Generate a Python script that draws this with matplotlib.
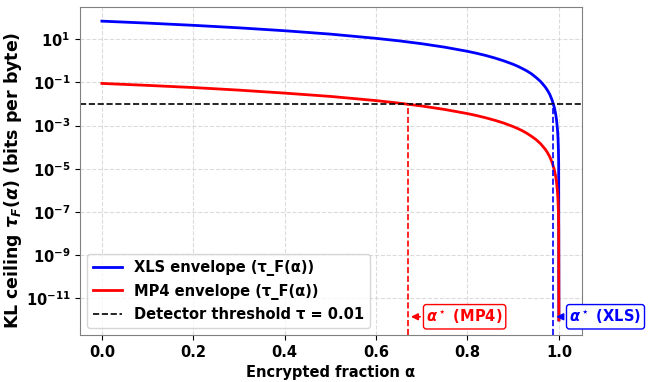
import numpy as np
import matplotlib
matplotlib.use("Agg")
import matplotlib.pyplot as plt

# encrypted fraction samples (denser near 1 where the curves drop)
alpha = [0.0, 0.1, 0.2, 0.3, 0.4, 0.5, 0.6, 0.65, 0.7, 0.75, 0.8, 0.82,
         0.84, 0.86, 0.88, 0.9, 0.91, 0.92, 0.93, 0.94, 0.95, 0.96, 0.97,
         0.975, 0.98, 0.985, 0.99, 0.993, 0.995, 0.997, 0.998, 0.999, 0.9995, 1.0]

# KL ceiling (bits per byte)
xls_tau = [69, 55.9, 44.2, 33.8, 24.8, 17.3, 11.0, 8.45, 6.2, 4.3, 2.76, 2.24,
           1.77, 1.35, 0.99, 0.69, 0.56, 0.44, 0.34, 0.25, 0.17, 0.11, 0.062,
           0.043, 0.028, 0.0155, 0.0069, 0.0034, 0.0017, 6.2e-4, 2.8e-4, 6.9e-5,
           1.7e-5, 1e-12]
mp4_tau = [0.09, 0.073, 0.058, 0.044, 0.032, 0.0225, 0.0144, 0.011, 0.0081,
           0.0056, 0.0036, 0.00292, 0.0023, 0.00176, 0.0013, 9e-4, 7.3e-4,
           5.8e-4, 4.4e-4, 3.2e-4, 2.25e-4, 1.44e-4, 8.1e-5, 5.6e-5, 3.6e-5,
           2.0e-5, 9e-6, 4.4e-6, 2.25e-6, 8.1e-7, 3.6e-7, 9e-8, 2.25e-8, 1e-12]

threshold = 0.01
alpha_star_mp4 = 0.67
alpha_star_xls = 0.988

plt.rcParams['font.weight'] = 'bold'
plt.rcParams['axes.labelweight'] = 'bold'

fig, ax = plt.subplots(figsize=(6.5, 3.82), dpi=100)
fig.subplots_adjust(left=0.123, right=0.895, top=0.982, bottom=0.123)

ax.plot(alpha, xls_tau, color='blue', lw=2, label='XLS envelope (τ_F(α))')
ax.plot(alpha, mp4_tau, color='red', lw=2, label='MP4 envelope (τ_F(α))')
ax.axhline(threshold, color='black', ls='--', lw=1.2,
           label='Detector threshold τ = 0.01')
ax.set_yscale('log')
ax.set_xlim(-0.048, 1.05)
ax.set_ylim(2e-13, 316)

ymin = ax.get_ylim()[0]
ax.vlines(alpha_star_mp4, ymin, threshold, colors='red', linestyles='--', lw=1.2)
ax.vlines(alpha_star_xls, ymin, threshold, colors='blue', linestyles='--', lw=1.2)

ann = dict(fontsize=10.5, fontweight='bold', va='center')
ax.annotate(r'$\boldsymbol{\alpha^\star}$ (MP4)', xy=(alpha_star_mp4, 1.4e-12),
            xytext=(alpha_star_mp4 + 0.04, 1.4e-12), color='red',
            bbox=dict(boxstyle='round,pad=0.2', fc='white', ec='red'),
            arrowprops=dict(arrowstyle='-|>', color='red', lw=1.2,
                            mutation_scale=10), **ann)
ax.annotate(r'$\boldsymbol{\alpha^\star}$ (XLS)', xy=(alpha_star_xls, 1.4e-12),
            xytext=(alpha_star_xls + 0.035, 1.4e-12), color='blue',
            bbox=dict(boxstyle='round,pad=0.2', fc='white', ec='blue'),
            arrowprops=dict(arrowstyle='-|>', color='blue', lw=1.2,
                            mutation_scale=10), **ann)

ax.set_xlabel('Encrypted fraction α', fontsize=10.5)
ax.set_ylabel(r'KL ceiling $\tau_F(\alpha)$ (bits per byte)', fontsize=12.5)
ax.yaxis.set_label_coords(-0.112, 0.47)
ax.tick_params(labelsize=10.5)
ax.grid(True, which='major', ls='--', color='lightgray', alpha=0.8)
for s in ax.spines.values():
    s.set_color('gray')
ax.legend(loc='lower left', fontsize=10.5)

plt.savefig('out.png', dpi=100)
